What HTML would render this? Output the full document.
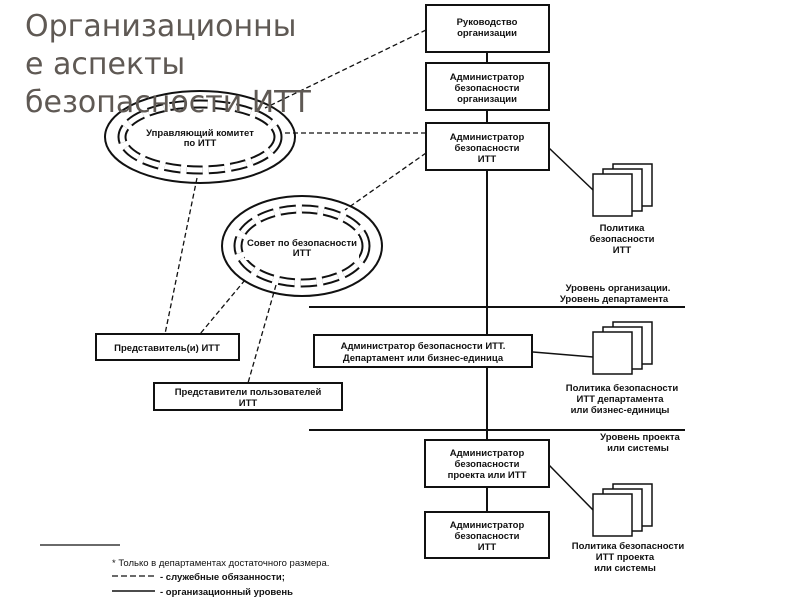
<!DOCTYPE html>
<html><head><meta charset="utf-8"><style>
body{margin:0;background:#fff;width:800px;height:600px;overflow:hidden;position:relative;font-family:"Liberation Sans",sans-serif}
.t{position:absolute;left:25px;top:8px;font-size:30px;line-height:38px;color:#5f5954;font-family:"DejaVu Sans","Liberation Sans",sans-serif;z-index:2}
svg{position:absolute;left:0;top:0}
</style></head><body>
<svg width="800" height="600" font-family="Liberation Sans,sans-serif" font-size="9.5" font-weight="bold" fill="#111">
<g stroke="#111" stroke-width="2" fill="#fff">
<line x1="487" y1="52" x2="487" y2="512"/>
<line x1="309" y1="307" x2="685" y2="307"/>
<line x1="309" y1="430" x2="685" y2="430"/>
<line x1="549" y1="148" x2="593" y2="190" stroke-width="1.5"/>
<line x1="533" y1="352" x2="593" y2="357" stroke-width="1.5"/>
<line x1="549" y1="465" x2="593" y2="510" stroke-width="1.5"/>
<rect x="426" y="5" width="123" height="47"/>
<rect x="426" y="63" width="123" height="47"/>
<rect x="426" y="123" width="123" height="47"/>
<rect x="314" y="335" width="218" height="32"/>
<rect x="425" y="440" width="124" height="47"/>
<rect x="425" y="512" width="124" height="46"/>
<rect x="96" y="334" width="143" height="26"/>
<rect x="154" y="383" width="188" height="27"/>
</g>
<g stroke="#111" stroke-width="1.5" fill="#fff">
<rect x="613" y="164" width="39" height="42"/><rect x="603" y="169" width="39" height="42"/><rect x="593" y="174" width="39" height="42"/>
<rect x="613" y="322" width="39" height="42"/><rect x="603" y="327" width="39" height="42"/><rect x="593" y="332" width="39" height="42"/>
<rect x="613" y="484" width="39" height="42"/><rect x="603" y="489" width="39" height="42"/><rect x="593" y="494" width="39" height="42"/>
</g>
<g stroke="#111" stroke-width="1.3" fill="none" stroke-dasharray="5,3">
<line x1="426" y1="30" x2="265" y2="108"/>
<line x1="426" y1="133" x2="282" y2="133"/>
<line x1="426" y1="153" x2="345" y2="210"/>
<line x1="197" y1="178" x2="165" y2="334"/>
<line x1="245" y1="280" x2="200" y2="334"/>
<line x1="276" y1="285" x2="248" y2="383"/>
</g>
<g stroke="#111" fill="none">
<ellipse cx="200" cy="137" rx="95" ry="46" stroke-width="2"/>
<ellipse cx="200" cy="137" rx="78" ry="33" stroke-width="9" stroke-dasharray="16,6"/>
<ellipse cx="200" cy="137" rx="78" ry="33" stroke-width="5" stroke="#fff" stroke-dasharray="16,6"/>
<ellipse cx="302" cy="246" rx="80" ry="50" stroke-width="2"/>
<ellipse cx="302" cy="246" rx="64" ry="37" stroke-width="9" stroke-dasharray="16,6"/>
<ellipse cx="302" cy="246" rx="64" ry="37" stroke-width="5" stroke="#fff" stroke-dasharray="16,6"/>
</g>
<rect x="135" y="126" width="130" height="24" fill="#fff"/>
<rect x="245" y="236" width="114" height="24" fill="#fff"/>
<g text-anchor="middle">
<text x="487" y="25">Руководство</text><text x="487" y="36">организации</text>
<text x="487" y="80">Администратор</text><text x="487" y="91">безопасности</text><text x="487" y="102">организации</text>
<text x="487" y="140">Администратор</text><text x="487" y="151">безопасности</text><text x="487" y="162">ИТТ</text>
<text x="200" y="136">Управляющий комитет</text><text x="200" y="146">по ИТТ</text>
<text x="302" y="246">Совет по безопасности</text><text x="302" y="256">ИТТ</text>
<text x="622" y="231">Политика</text><text x="622" y="242">безопасности</text><text x="622" y="253">ИТТ</text>
<text x="618" y="291">Уровень организации.</text><text x="614" y="302">Уровень департамента</text>
<text x="423" y="349">Администратор безопасности ИТТ.</text><text x="423" y="361">Департамент или бизнес-единица</text>
<text x="167" y="351">Представитель(и) ИТТ</text>
<text x="248" y="395">Представители пользователей</text><text x="248" y="406">ИТТ</text>
<text x="622" y="391">Политика безопасности</text><text x="620" y="402">ИТТ департамента</text><text x="620" y="413">или бизнес-единицы</text>
<text x="640" y="440">Уровень проекта</text><text x="638" y="451">или системы</text>
<text x="487" y="456">Администратор</text><text x="487" y="467">безопасности</text><text x="487" y="478">проекта или ИТТ</text>
<text x="487" y="528">Администратор</text><text x="487" y="539">безопасности</text><text x="487" y="550">ИТТ</text>
<text x="628" y="549">Политика безопасности</text><text x="625" y="560">ИТТ проекта</text><text x="625" y="571">или системы</text>
</g>
<line x1="40" y1="545" x2="120" y2="545" stroke="#111" stroke-width="1.3"/>
<text x="112" y="566" font-weight="normal">* Только в департаментах достаточного размера.</text>
<line x1="112" y1="576" x2="155" y2="576" stroke="#111" stroke-width="1.3" stroke-dasharray="6,3"/>
<text x="160" y="580">- служебные обязанности;</text>
<line x1="112" y1="591" x2="155" y2="591" stroke="#111" stroke-width="1.5"/>
<text x="160" y="595">- организационный уровень</text>
</svg>
<div class="t">Организационны<br>е аспекты<br>безопасности ИТТ</div>
</body></html>
